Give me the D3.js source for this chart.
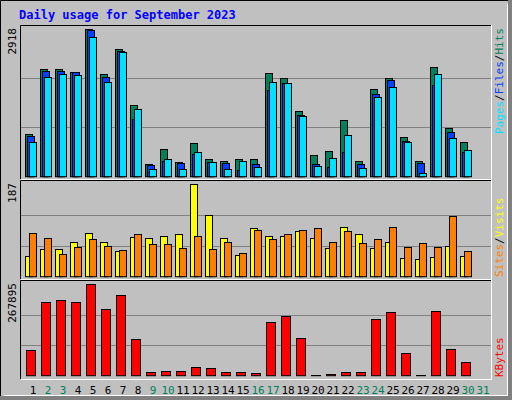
<!DOCTYPE html>
<html>
<head>
<meta charset="utf-8">
<script src="https://cdn.jsdelivr.net/npm/d3@7"></script>
<style>body{margin:0;background:#fff}text{font-family:"DejaVu Sans Mono",monospace}</style>
</head>
<body>
<div class="chart"></div>
<script>
var days = d3.range(1, 32);
var weekend = [2, 3, 9, 10, 16, 17, 23, 24, 30, 31];
var hits = [840,2126,2126,2073,2918,2027,2522,1414,251,542,285,661,344,305,344,344,2047,1948,1295,424,503,1117,305,1731,1948,780,305,2166,958,681];
var files = [805,2093,2093,2060,2890,1974,2489,1142,232,305,265,443,285,265,127,245,1717,1842,1216,245,186,483,245,1632,1909,701,265,1810,879,483];
var pages = [680,1968,2033,2008,2760,1869,2463,1340,146,344,146,483,285,146,305,186,1869,1849,1196,206,364,820,166,1572,1770,681,66,2027,760,523];
var visits = [41,55,55,69,88,69,51,80,78,82,86,187,124,78,43,98,82,82,92,78,57,100,86,57,69,37,35,39,61,41];
var sites = [88,78,45,59,76,61,53,86,65,65,57,82,55,69,47,94,76,86,94,98,69,92,67,76,100,59,67,59,122,51];
var kbytes = [74300,215000,221000,215000,267895,194600,235700,106600,9800,12700,12700,24500,21500,9800,9800,6800,156500,174000,109500,1500,5000,9800,9800,165000,185800,65500,1000,188800,77300,39100];

var svg = d3.select(".chart").append("svg").attr("width", 512).attr("height", 400);

// frame with shadow
svg.append("rect").attr("x", 0).attr("y", 0).attr("width", 512).attr("height", 400).attr("fill", "#808080");
svg.append("rect").attr("x", 0).attr("y", 0).attr("width", 508).attr("height", 396).attr("fill", "#c0c0c0");
svg.append("path").attr("d", "M0.5,396V0.5H508").attr("stroke", "#000").attr("fill", "none");
svg.append("path").attr("d", "M4,395.5H507.5V4").attr("stroke", "#fff").attr("fill", "none");

svg.append("text").attr("x", 19).attr("y", 19).attr("fill", "#0000ff")
  .style("font-size", "12px").style("font-weight", "bold").text("Daily usage for September 2023");

var x = d3.scaleLinear().domain([1, 31]).range([25, 25 + 30 * 15]);

var panels = [
  {top: 25, bottom: 179, base: 176.7, max: 2918, label: "2918"},
  {top: 180, bottom: 279, base: 276.7, max: 187, label: "187"},
  {top: 280, bottom: 379, base: 375.7, max: 267895, label: "267895"}
];

panels.forEach(function(p) {
  p.y = d3.scaleLinear().domain([0, p.max]).range([p.base, p.base - (p.base - p.top - 4) ]);
  var g = svg.append("g");
  g.append("path").attr("d", "M20.5," + p.bottom + "V" + (p.top + 0.5) + "H491")
    .attr("stroke", "#000").attr("fill", "none");
  g.append("path").attr("d", "M21," + (p.bottom + 0.5) + "H491.5V" + p.top)
    .attr("stroke", "#fff").attr("fill", "none");
  [1 / 3, 2 / 3].forEach(function(f) {
    var yy = Math.round(p.y(p.max * f)) + 0.5;
    g.append("line").attr("x1", 21).attr("x2", 491).attr("y1", yy).attr("y2", yy).attr("stroke", "#808080");
  });
  svg.append("text").attr("transform", "translate(16," + (p.top + 3) + ") rotate(-90)")
    .attr("text-anchor", "end").style("font-size", "11px").attr("fill", "#000").text(p.label);
});

function bars(data, p, off, w, color) {
  svg.append("g").selectAll("rect").data(data).join("rect")
    .attr("x", function(d, i) { return x(i + 1) + off + 0.5; })
    .attr("y", function(d) { return Math.round(p.y(d)) + 0.5; })
    .attr("width", w)
    .attr("height", function(d) { return Math.max(0, p.base - Math.round(p.y(d)) - 0.5); })
    .attr("fill", color).attr("stroke", "#000");
}

bars(hits, panels[0], 0, 7, "#00805c");
bars(files, panels[0], 2, 7, "#0040ff");
bars(pages, panels[0], 4, 7, "#00e0ff");
bars(visits, panels[1], 0, 7, "#ffff00");
bars(sites, panels[1], 4, 7, "#ff8000");
bars(kbytes, panels[2], 1, 9, "#ff0000");

// day labels
svg.append("g").selectAll("text").data(days).join("text")
  .attr("x", function(d) { return x(d) + 8; })
  .attr("y", 394)
  .attr("text-anchor", "middle")
  .style("font-size", "11px")
  .attr("fill", function(d) { return weekend.indexOf(d) >= 0 ? "#00805c" : "#000"; })
  .text(function(d) { return d; });

// right legends
function legend(parts, tx, ty, anchor) {
  var t = svg.append("text").attr("transform", "translate(" + tx + "," + ty + ") rotate(-90)")
    .attr("text-anchor", anchor).style("font-size", "11px");
  parts.forEach(function(pt) { t.append("tspan").attr("fill", pt[1]).text(pt[0]); });
}
legend([["Pages", "#00e0ff"], ["/", "#000"], ["Files", "#0040ff"], ["/", "#000"], ["Hits", "#00805c"]], 503, 28, "end");
legend([["Sites", "#ff8000"], ["/", "#000"], ["Visits", "#ffff00"]], 503, 277, "start");
legend([["KBytes", "#ff0000"]], 503, 377, "start");
</script>
</body>
</html>
